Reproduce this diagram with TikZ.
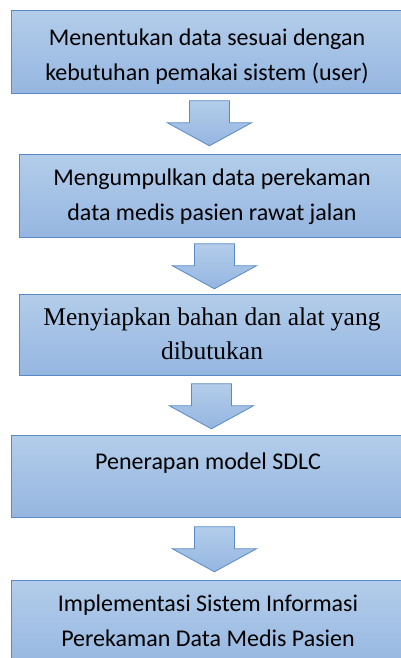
\documentclass[tikz,border=0pt]{standalone}
\usepackage{fontspec}
\setmainfont{Carlito}
\newfontfamily\serifteks{Liberation Serif}
\usepackage{tikz}
\usetikzlibrary{positioning, calc}

\definecolor{biruatas}{HTML}{B3CDEA}
\definecolor{birubawah}{HTML}{95B6E1}
\definecolor{birugaris}{HTML}{5A8AC6}

\tikzset{
  panah/.pic={
    \draw[birugaris, line width=0.8pt, top color=biruatas, bottom color=birubawah]
      (-20,0) -- (20,0) -- (20,22) -- (42,22) -- (0,45) -- (-42,22) -- (-20,22) -- cycle;
  }
}

\begin{document}
\begin{tikzpicture}[x=1pt, y=-1pt,
    blok/.style={draw=birugaris, line width=0.8pt, top color=biruatas, bottom color=birubawah,
      rectangle, anchor=north west, inner sep=0pt},
    teks/.style={align=center, inner sep=0pt, anchor=north, font=\fontsize{24}{35}\selectfont}]
  \useasboundingbox (0,0) rectangle (401,658);
  \clip (0,0) rectangle (401,658);

  % kotak tahapan
  \node[blok, minimum width=392pt, minimum height=83pt] (b1) at (11,10) {};
  \node[blok, minimum width=386pt, minimum height=83pt] (b2) at (19,154) {};
  \node[blok, minimum width=386pt, minimum height=81pt] (b3) at (19,294) {};
  \node[blok, minimum width=392pt, minimum height=82pt] (b4) at (11,435) {};
  \node[blok, minimum width=392pt, minimum height=90pt] (b5) at (11,580) {};

  % teks
  \node[teks] (t1) at (207,29) {Menentukan data sesuai dengan\\kebutuhan pemakai sistem (user)};
  \node[teks] (t2) at (212,169) {Mengumpulkan data perekaman\\data medis pasien rawat jalan};
  \node[teks, font=\serifteks\fontsize{25.5}{34}\selectfont] (t3) at (212,308) {Menyiapkan bahan dan alat yang\\dibutukan};
  \node[teks] (t4) at (208,453) {Penerapan model SDLC};
  \node[teks] (t5) at (208,595) {Implementasi Sistem Informasi\\Perekaman Data Medis Pasien};

  % panah
  \pic at ($(b1.south)+(2,7)$) {panah};
  \pic at ($(b2.south)+(2,6)$) {panah};
  \pic at ($(b3.south)+(-1,8)$) {panah};
  \pic at ($(b4.south)+(7,9)$) {panah};
\end{tikzpicture}
\end{document}
